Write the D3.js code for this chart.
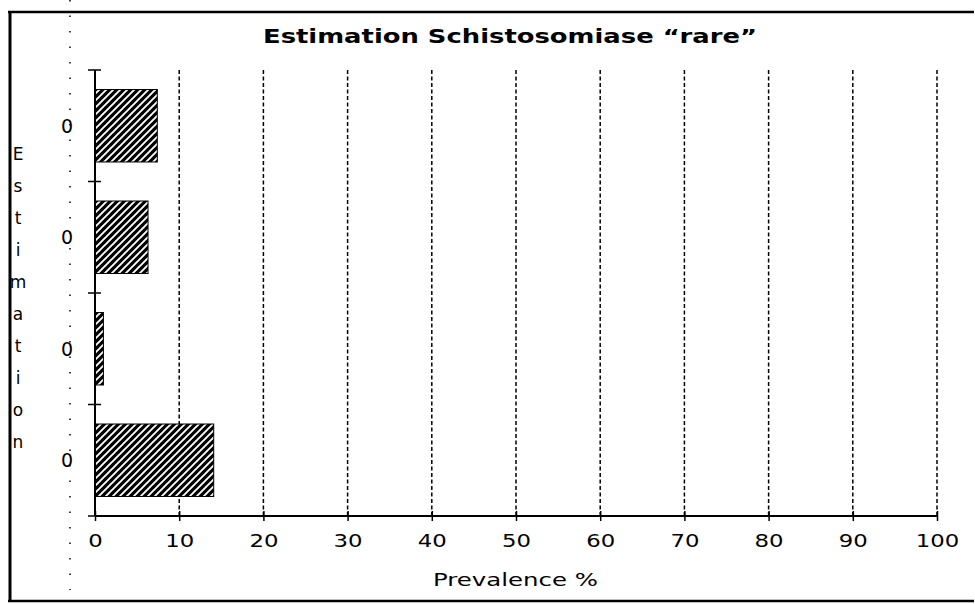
<!DOCTYPE html>
<html>
<head>
<meta charset="utf-8">
<script src="https://cdn.jsdelivr.net/npm/d3@7"></script>
<style>
  html, body { margin: 0; padding: 0; background: #fff; }
  svg { display: block; }
</style>
</head>
<body>
<script>
// ---- data ----
const categoryLabels = ["0", "0", "0", "0"];
const prevalence = [7.4, 6.3, 1.0, 14.1];
const xTicks = [0, 10, 20, 30, 40, 50, 60, 70, 80, 90, 100];
const titleText = "Estimation Schistosomiase \u201Crare\u201D";
const xTitle = "Prevalence %";
const yTitle = "Estimation";

const W = 975, H = 604;
const svg = d3.select("body").append("svg").attr("width", W).attr("height", H);

const defs = svg.append("defs");
const P = 7;
const pat = defs.append("pattern")
  .attr("id", "hatch").attr("patternUnits", "userSpaceOnUse")
  .attr("width", P).attr("height", P);
pat.append("rect").attr("width", P).attr("height", P).attr("fill", "#000");
pat.append("path").attr("d", `M0,${P}L${P},0M-1,1L1,-1M${P - 1},${P + 1}L${P + 1},${P - 1}`)
  .attr("stroke", "#fff").attr("stroke-width", 1.9);

// frame
svg.append("line").attr("x1", 8).attr("x2", 974).attr("y1", 12).attr("y2", 12)
  .attr("stroke", "#000").attr("stroke-width", 2.5);
svg.append("line").attr("x1", 10).attr("x2", 10).attr("y1", 11).attr("y2", 602)
  .attr("stroke", "#000").attr("stroke-width", 3);
svg.append("line").attr("x1", 8).attr("x2", 974).attr("y1", 601).attr("y2", 601)
  .attr("stroke", "#000").attr("stroke-width", 2.5);

// scan artifact dotted line
svg.append("line").attr("x1", 70).attr("x2", 70).attr("y1", 0).attr("y2", 590)
  .attr("stroke", "#000").attr("stroke-width", 1.5).attr("stroke-dasharray", "1.5 14");

const x = d3.scaleLinear().domain([0, 100]).range([95, 937]);
const y = d3.scaleBand().domain(d3.range(categoryLabels.length)).range([70, 516])
  .paddingInner(0.35).paddingOuter(0.175);
const step = y.step();

// gridlines
svg.append("g").selectAll("line").data(xTicks.filter(d => d > 0)).join("line")
  .attr("x1", d => x(d)).attr("x2", d => x(d))
  .attr("y1", 70).attr("y2", 516)
  .attr("stroke", "#000").attr("stroke-width", 1.5)
  .attr("stroke-dasharray", "4 2.5");

// bars
svg.append("g").selectAll("rect").data(prevalence).join("rect")
  .attr("x", x(0)).attr("y", (d, i) => y(i))
  .attr("width", d => x(d) - x(0)).attr("height", y.bandwidth())
  .attr("fill", "url(#hatch)").attr("stroke", "#000").attr("stroke-width", 1);

// x axis
const xAxis = d3.axisBottom(x).tickValues(xTicks).tickSize(5).tickPadding(10);
const gx = svg.append("g").attr("transform", "translate(0,516)").call(xAxis);
gx.select(".domain").attr("stroke-width", 2).attr("d", `M${x(0)},0H${x(100)}`);
gx.selectAll(".tick line").attr("y1", -5).attr("stroke-width", 1.5);
gx.selectAll(".tick text")
  .attr("font-family", "DejaVu Sans").attr("font-size", 18)
  .attr("fill", "#000").attr("dy", "0.9em")
  .attr("textLength", d => String(d).length * 14.5).attr("lengthAdjust", "spacingAndGlyphs");

// y axis
const bounds = d3.range(categoryLabels.length + 1).map(i => 70 + i * step);
svg.append("line").attr("x1", x(0)).attr("x2", x(0)).attr("y1", 70).attr("y2", 516)
  .attr("stroke", "#000").attr("stroke-width", 2);
svg.append("g").selectAll("line").data(bounds).join("line")
  .attr("x1", x(0) - 7).attr("x2", x(0) + 6).attr("y1", d => d).attr("y2", d => d)
  .attr("stroke", "#000").attr("stroke-width", 1.5);
svg.append("g").selectAll("text").data(categoryLabels).join("text")
  .attr("x", 67).attr("y", (d, i) => y(i) + y.bandwidth() / 2 + 7)
  .attr("text-anchor", "middle")
  .attr("font-family", "DejaVu Sans").attr("font-size", 19).text(d => d);

// title
svg.append("text").attr("x", 263).attr("y", 43)
  .attr("font-family", "DejaVu Sans").attr("font-weight", "bold").attr("font-size", 20)
  .attr("textLength", 494).attr("lengthAdjust", "spacingAndGlyphs").text(titleText);

// x title
svg.append("text").attr("x", 433).attr("y", 586)
  .attr("font-family", "DejaVu Sans").attr("font-size", 17)
  .attr("textLength", 165).attr("lengthAdjust", "spacingAndGlyphs").text(xTitle);

// y title, stacked letters
svg.append("g").selectAll("text").data(yTitle.split("")).join("text")
  .attr("x", 18).attr("y", (d, i) => 160 + i * 32)
  .attr("text-anchor", "middle")
  .attr("font-family", "DejaVu Sans").attr("font-size", 17).text(d => d);
</script>
</body>
</html>
